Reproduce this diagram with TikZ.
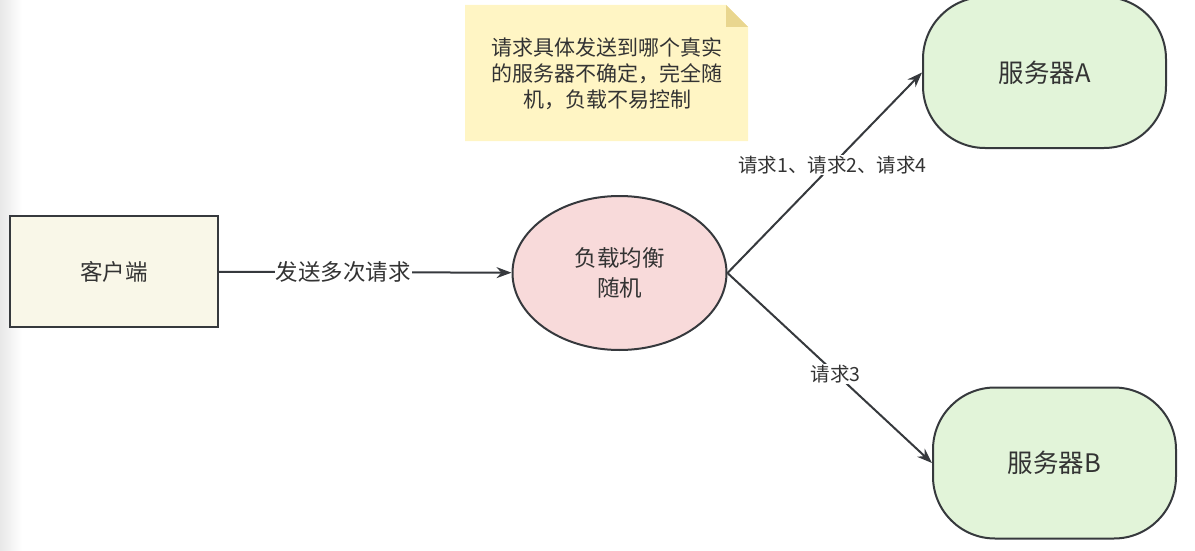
\documentclass[tikz,border=0pt]{standalone}
\usepackage{fontspec}
\setmainfont{Noto Sans CJK SC}
\usetikzlibrary{shapes.geometric,arrows.meta}
\definecolor{txt}{HTML}{333333}
\definecolor{edge}{HTML}{36393D}
\definecolor{clientfill}{HTML}{F9F7E8}
\definecolor{lbfill}{HTML}{F8DADA}
\definecolor{srvfill}{HTML}{E2F4D9}
\definecolor{notefill}{HTML}{FFF5C4}
\definecolor{notefold}{HTML}{E9D68F}
\begin{document}
\begin{tikzpicture}[x=1pt,y=-1pt,
  every node/.style={text=txt},
  box/.style={draw=edge,line width=2pt,inner sep=0pt},
  conn/.style={draw=edge,line width=2pt,-{Stealth[length=15pt,width=11pt]}},
  lbl/.style={fill=white,font=\fontsize{19.5}{22}\selectfont,inner sep=1pt}]
\useasboundingbox (0,0) rectangle (1195,551);
\shade[left color=black!9,right color=white] (0,0) rectangle (22,551);
% note
\fill[notefill] (465,5) -- (726,5) -- (748,27) -- (748,141) -- (465,141) -- cycle;
\fill[notefold] (726,5) -- (748,27) -- (726,27) -- cycle;
\node[align=center,font=\fontsize{21}{26}\selectfont] (note) at (607,74) {请求具体发送到哪个真实\\的服务器不确定，完全随\\机，负载不易控制};
% nodes
\node[box,fill=clientfill,minimum width=208pt,minimum height=111pt,font=\fontsize{22.5}{26}\selectfont] (client) at (114,271.5) {客户端};
\node[box,ellipse,fill=lbfill,minimum width=214pt,minimum height=154pt,align=center,font=\fontsize{22.5}{30}\selectfont] (lb) at (619.5,273) {负载均衡\\随机};
\node[box,rounded corners=62pt,fill=srvfill,minimum width=243pt,minimum height=151pt,font=\fontsize{25.5}{30}\selectfont] (sa) at (1044.5,72.5) {服务器A};
\node[box,rounded corners=62pt,fill=srvfill,minimum width=243pt,minimum height=151pt,font=\fontsize{25.5}{30}\selectfont] (sb) at (1054.5,463) {服务器B};
% connectors
\draw[conn] (client) -- node[lbl,pos=0.425,font=\fontsize{22.5}{26}\selectfont] {发送多次请求} (lb);
\draw[conn] (lb.east) -- node[lbl,pos=0.54] {请求1、请求2、请求4} (sa.west);
\draw[conn] (lb.east) -- node[lbl,pos=0.53] {请求3} (sb.west);
\end{tikzpicture}
\end{document}
